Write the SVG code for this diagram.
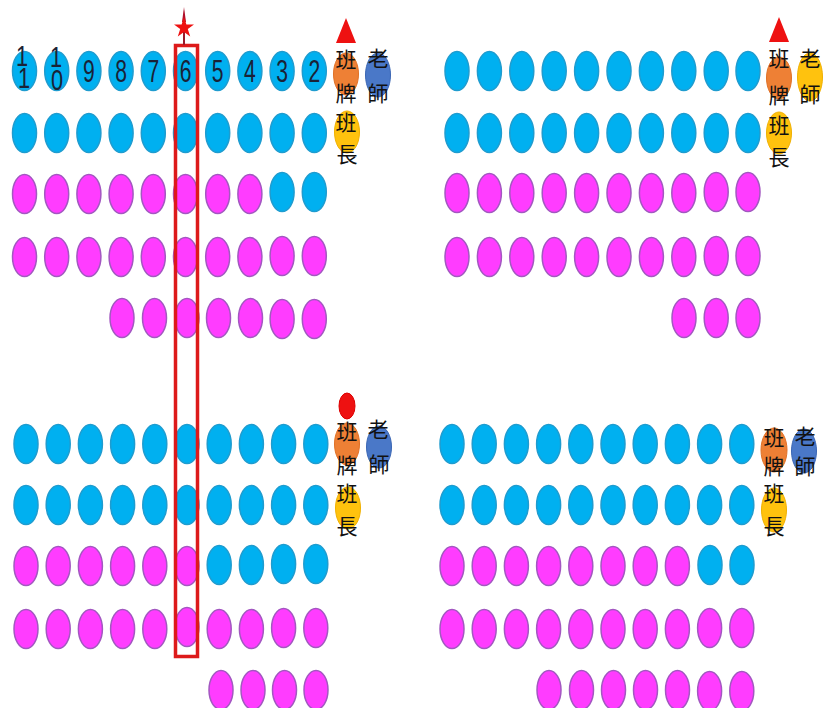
<svg xmlns="http://www.w3.org/2000/svg" xmlns:xlink="http://www.w3.org/1999/xlink" width="826" height="708" viewBox="0 0 826 708">
<defs>
<style>
.b{fill:#00b0f0;stroke:#1f9ccf;stroke-width:1.5}
.p{fill:#ff3cff;stroke:#a258c0;stroke-width:1.5}
.o{fill:#ee8035;stroke:#e07025;stroke-width:1}
.y{fill:#ffc20e;stroke:#f0b000;stroke-width:1}
.t{fill:#4a78c8;stroke:#3a66b4;stroke-width:1}
.d{font-family:"Liberation Sans",Arial,sans-serif;font-size:32px;fill:#1a2236;text-anchor:middle}
.c{font-family:"Noto Sans CJK TC","Noto Sans CJK SC",sans-serif;font-size:21px;fill:#111;text-anchor:middle;dominant-baseline:central}
</style>
<ellipse id="s" rx="12" ry="19.5"/>
</defs>
<rect width="826" height="708" fill="#ffffff"/>

<g id="top-left">
<g id="tl-r1">
<use href="#s" class="b" x="24.5" y="71"/><use href="#s" class="b" x="56.7" y="71"/><use href="#s" class="b" x="88.9" y="71"/><use href="#s" class="b" x="121.1" y="71"/><use href="#s" class="b" x="153.3" y="71"/><use href="#s" class="b" x="185.5" y="71"/><use href="#s" class="b" x="217.7" y="71"/><use href="#s" class="b" x="249.9" y="71"/><use href="#s" class="b" x="282.1" y="71"/><use href="#s" class="b" x="314.3" y="71"/>
</g>
<g id="tl-nums">
<text class="d" transform="translate(22,66) scale(0.68,0.9)">1</text>
<text class="d" transform="translate(24,88) scale(0.68,0.9)">1</text>
<text class="d" transform="translate(56,67) scale(0.68,0.9)">1</text>
<text class="d" transform="translate(57,90) scale(0.68,0.9)">0</text>
<text class="d" transform="translate(88.9,82) scale(0.66,1)">9</text>
<text class="d" transform="translate(121.1,82) scale(0.66,1)">8</text>
<text class="d" transform="translate(153.3,82) scale(0.66,1)">7</text>
<text class="d" transform="translate(185.5,82) scale(0.66,1)">6</text>
<text class="d" transform="translate(217.7,82) scale(0.66,1)">5</text>
<text class="d" transform="translate(249.9,82) scale(0.66,1)">4</text>
<text class="d" transform="translate(282.1,82) scale(0.66,1)">3</text>
<text class="d" transform="translate(314.3,82) scale(0.66,1)">2</text>
</g>
<g id="tl-r2">
<use href="#s" class="b" x="24.5" y="133"/><use href="#s" class="b" x="56.7" y="133"/><use href="#s" class="b" x="88.9" y="133"/><use href="#s" class="b" x="121.1" y="133"/><use href="#s" class="b" x="153.3" y="133"/><use href="#s" class="b" x="185.5" y="133"/><use href="#s" class="b" x="217.7" y="133"/><use href="#s" class="b" x="249.9" y="133"/><use href="#s" class="b" x="282.1" y="133"/><use href="#s" class="b" x="314.3" y="133"/>
</g>
<g id="tl-r3">
<use href="#s" class="p" x="24.5" y="194"/><use href="#s" class="p" x="56.7" y="194"/><use href="#s" class="p" x="88.9" y="194"/><use href="#s" class="p" x="121.1" y="194"/><use href="#s" class="p" x="153.3" y="194"/><use href="#s" class="p" x="185.5" y="194"/><use href="#s" class="p" x="217.7" y="194"/><use href="#s" class="p" x="249.9" y="194"/><use href="#s" class="b" x="282.1" y="192"/><use href="#s" class="b" x="314.3" y="192"/>
</g>
<g id="tl-r4">
<use href="#s" class="p" x="24.5" y="257"/><use href="#s" class="p" x="56.7" y="257"/><use href="#s" class="p" x="88.9" y="257"/><use href="#s" class="p" x="121.1" y="257"/><use href="#s" class="p" x="153.3" y="257"/><use href="#s" class="p" x="185.5" y="257"/><use href="#s" class="p" x="217.7" y="257"/><use href="#s" class="p" x="249.9" y="257"/><use href="#s" class="p" x="282.1" y="256"/><use href="#s" class="p" x="314.3" y="256"/>
</g>
<g id="tl-r5">
<use href="#s" class="p" x="122" y="318"/><use href="#s" class="p" x="154.5" y="318"/><use href="#s" class="p" x="187" y="318"/><use href="#s" class="p" x="218.5" y="318"/><use href="#s" class="p" x="250.5" y="318"/><use href="#s" class="p" x="282.1" y="319"/><use href="#s" class="p" x="314.3" y="319"/>
</g>
<g id="tl-sign">
<polygon points="346,18 336,43 356,43" fill="#ee1111"/>
<ellipse class="o" cx="346" cy="74" rx="12.5" ry="21"/>
<text class="c" x="346" y="58">班</text><text class="c" x="346" y="92">牌</text>
</g>
<g id="tl-leader">
<ellipse class="y" cx="347" cy="132" rx="12.5" ry="21"/>
<text class="c" x="346" y="121">班</text><text class="c" x="347" y="153">長</text>
</g>
<g id="tl-teacher">
<ellipse class="t" cx="378" cy="75" rx="12.5" ry="22"/>
<text class="c" x="378" y="57">老</text><text class="c" x="378" y="92">師</text>
</g>
</g>

<g id="top-right">
<g id="tr-r1">
<use href="#s" class="b" x="457" y="71"/><use href="#s" class="b" x="489.4" y="71"/><use href="#s" class="b" x="521.8" y="71"/><use href="#s" class="b" x="554.2" y="71"/><use href="#s" class="b" x="586.6" y="71"/><use href="#s" class="b" x="619" y="71"/><use href="#s" class="b" x="651.4" y="71"/><use href="#s" class="b" x="683.8" y="71"/><use href="#s" class="b" x="716.2" y="71"/><use href="#s" class="b" x="748" y="71"/>
</g>
<g id="tr-r2">
<use href="#s" class="b" x="457" y="133"/><use href="#s" class="b" x="489.4" y="133"/><use href="#s" class="b" x="521.8" y="133"/><use href="#s" class="b" x="554.2" y="133"/><use href="#s" class="b" x="586.6" y="133"/><use href="#s" class="b" x="619" y="133"/><use href="#s" class="b" x="651.4" y="133"/><use href="#s" class="b" x="683.8" y="133"/><use href="#s" class="b" x="716.2" y="133"/><use href="#s" class="b" x="748" y="133"/>
</g>
<g id="tr-r3">
<use href="#s" class="p" x="457" y="193"/><use href="#s" class="p" x="489.4" y="193"/><use href="#s" class="p" x="521.8" y="193"/><use href="#s" class="p" x="554.2" y="193"/><use href="#s" class="p" x="586.6" y="193"/><use href="#s" class="p" x="619" y="193"/><use href="#s" class="p" x="651.4" y="193"/><use href="#s" class="p" x="683.8" y="193"/><use href="#s" class="p" x="716.2" y="192"/><use href="#s" class="p" x="748" y="192"/>
</g>
<g id="tr-r4">
<use href="#s" class="p" x="457" y="257"/><use href="#s" class="p" x="489.4" y="257"/><use href="#s" class="p" x="521.8" y="257"/><use href="#s" class="p" x="554.2" y="257"/><use href="#s" class="p" x="586.6" y="257"/><use href="#s" class="p" x="619" y="257"/><use href="#s" class="p" x="651.4" y="257"/><use href="#s" class="p" x="683.8" y="257"/><use href="#s" class="p" x="716.2" y="256"/><use href="#s" class="p" x="748" y="256"/>
</g>
<g id="tr-r5">
<use href="#s" class="p" x="684" y="318"/><use href="#s" class="p" x="716.2" y="318"/><use href="#s" class="p" x="748" y="318"/>
</g>
<g id="tr-sign">
<polygon points="779,17 769,42 789,42" fill="#ee1111"/>
<ellipse class="o" cx="779" cy="78" rx="12.5" ry="21"/>
<text class="c" x="779" y="57">班</text><text class="c" x="779" y="94">牌</text>
</g>
<g id="tr-leader">
<ellipse class="y" cx="779" cy="133" rx="12.5" ry="21"/>
<text class="c" x="779" y="124">班</text><text class="c" x="779" y="156">長</text>
</g>
<g id="tr-teacher">
<ellipse class="y" cx="810" cy="77" rx="12.5" ry="24"/>
<text class="c" x="810" y="57">老</text><text class="c" x="810" y="93">師</text>
</g>
</g>

<g id="bottom-left">
<g id="bl-r1">
<use href="#s" class="b" x="26" y="444"/><use href="#s" class="b" x="58.2" y="444"/><use href="#s" class="b" x="90.4" y="444"/><use href="#s" class="b" x="122.6" y="444"/><use href="#s" class="b" x="154.8" y="444"/><use href="#s" class="b" x="187" y="444"/><use href="#s" class="b" x="219.2" y="444"/><use href="#s" class="b" x="251.4" y="444"/><use href="#s" class="b" x="283.6" y="444"/><use href="#s" class="b" x="315.8" y="444"/>
</g>
<g id="bl-r2">
<use href="#s" class="b" x="26" y="505"/><use href="#s" class="b" x="58.2" y="505"/><use href="#s" class="b" x="90.4" y="505"/><use href="#s" class="b" x="122.6" y="505"/><use href="#s" class="b" x="154.8" y="505"/><use href="#s" class="b" x="187" y="505"/><use href="#s" class="b" x="219.2" y="505"/><use href="#s" class="b" x="251.4" y="505"/><use href="#s" class="b" x="283.6" y="505"/><use href="#s" class="b" x="315.8" y="505"/>
</g>
<g id="bl-r3">
<use href="#s" class="p" x="26" y="566"/><use href="#s" class="p" x="58.2" y="566"/><use href="#s" class="p" x="90.4" y="566"/><use href="#s" class="p" x="122.6" y="566"/><use href="#s" class="p" x="154.8" y="566"/><use href="#s" class="p" x="187" y="566"/><use href="#s" class="b" x="219.2" y="565"/><use href="#s" class="b" x="251.4" y="565"/><use href="#s" class="b" x="283.6" y="564"/><use href="#s" class="b" x="315.8" y="564"/>
</g>
<g id="bl-r4">
<use href="#s" class="p" x="26" y="629"/><use href="#s" class="p" x="58.2" y="629"/><use href="#s" class="p" x="90.4" y="629"/><use href="#s" class="p" x="122.6" y="629"/><use href="#s" class="p" x="154.8" y="629"/><use href="#s" class="p" x="187" y="627"/><use href="#s" class="p" x="219.2" y="629"/><use href="#s" class="p" x="251.4" y="629"/><use href="#s" class="p" x="283.6" y="628"/><use href="#s" class="p" x="315.8" y="628"/>
</g>
<g id="bl-r5">
<use href="#s" class="p" x="221" y="690"/><use href="#s" class="p" x="253" y="690"/><use href="#s" class="p" x="284.5" y="690"/><use href="#s" class="p" x="316" y="690"/>
</g>
<g id="bl-sign">
<ellipse cx="347" cy="406" rx="8" ry="13" fill="#ee1111" stroke="#d00" stroke-width="1"/>
<ellipse class="o" cx="347" cy="444" rx="12.5" ry="21"/>
<text class="c" x="347" y="430">班</text><text class="c" x="347" y="464">牌</text>
</g>
<g id="bl-leader">
<ellipse class="y" cx="348" cy="508" rx="12.5" ry="21"/>
<text class="c" x="347" y="492">班</text><text class="c" x="347" y="525">長</text>
</g>
<g id="bl-teacher">
<ellipse class="t" cx="379" cy="447" rx="12.5" ry="21"/>
<text class="c" x="378" y="428">老</text><text class="c" x="379" y="463">師</text>
</g>
</g>

<g id="bottom-right">
<g id="br-r1">
<use href="#s" class="b" x="452" y="444"/><use href="#s" class="b" x="484.2" y="444"/><use href="#s" class="b" x="516.4" y="444"/><use href="#s" class="b" x="548.6" y="444"/><use href="#s" class="b" x="580.8" y="444"/><use href="#s" class="b" x="613" y="444"/><use href="#s" class="b" x="645.2" y="444"/><use href="#s" class="b" x="677.4" y="444"/><use href="#s" class="b" x="709.6" y="444"/><use href="#s" class="b" x="741.8" y="444"/>
</g>
<g id="br-r2">
<use href="#s" class="b" x="452" y="505"/><use href="#s" class="b" x="484.2" y="505"/><use href="#s" class="b" x="516.4" y="505"/><use href="#s" class="b" x="548.6" y="505"/><use href="#s" class="b" x="580.8" y="505"/><use href="#s" class="b" x="613" y="505"/><use href="#s" class="b" x="645.2" y="505"/><use href="#s" class="b" x="677.4" y="505"/><use href="#s" class="b" x="709.6" y="505"/><use href="#s" class="b" x="741.8" y="505"/>
</g>
<g id="br-r3">
<use href="#s" class="p" x="452" y="566"/><use href="#s" class="p" x="484.2" y="566"/><use href="#s" class="p" x="516.4" y="566"/><use href="#s" class="p" x="548.6" y="566"/><use href="#s" class="p" x="580.8" y="566"/><use href="#s" class="p" x="613" y="566"/><use href="#s" class="p" x="645.2" y="566"/><use href="#s" class="p" x="677.4" y="566"/><use href="#s" class="b" x="710" y="565"/><use href="#s" class="b" x="742" y="565"/>
</g>
<g id="br-r4">
<use href="#s" class="p" x="452" y="629"/><use href="#s" class="p" x="484.2" y="629"/><use href="#s" class="p" x="516.4" y="629"/><use href="#s" class="p" x="548.6" y="629"/><use href="#s" class="p" x="580.8" y="629"/><use href="#s" class="p" x="613" y="629"/><use href="#s" class="p" x="645.2" y="629"/><use href="#s" class="p" x="677.4" y="629"/><use href="#s" class="p" x="709.6" y="628"/><use href="#s" class="p" x="741.8" y="628"/>
</g>
<g id="br-r5">
<use href="#s" class="p" x="549" y="690"/><use href="#s" class="p" x="581.5" y="690"/><use href="#s" class="p" x="613.5" y="690"/><use href="#s" class="p" x="645.5" y="690"/><use href="#s" class="p" x="677.5" y="690"/><use href="#s" class="p" x="709.6" y="691"/><use href="#s" class="p" x="741.8" y="691"/>
</g>
<g id="br-sign">
<ellipse class="o" cx="774" cy="450" rx="13" ry="22"/>
<text class="c" x="774" y="436">班</text><text class="c" x="774" y="465">牌</text>
</g>
<g id="br-leader">
<ellipse class="y" cx="774" cy="510" rx="12.5" ry="22"/>
<text class="c" x="774" y="492">班</text><text class="c" x="774" y="525">長</text>
</g>
<g id="br-teacher">
<ellipse class="t" cx="804" cy="451" rx="12.5" ry="22"/>
<text class="c" x="805" y="435">老</text><text class="c" x="805" y="465">師</text>
</g>
</g>

<g id="highlight">
<rect x="175.5" y="45.5" width="22" height="611" fill="none" stroke="#dd1a1a" stroke-width="3.5"/>
<line x1="184" y1="30" x2="184" y2="45" stroke="#9a1a2a" stroke-width="2"/>
<polygon points="184,7 182,22 186,22" fill="#b0102a"/>
<polygon points="184,17 186.4,24.5 194,24.5 187.8,29 190.2,36.5 184,32 177.8,36.5 180.2,29 174,24.5 181.6,24.5" fill="#ee1111"/>
</g>
</svg>
